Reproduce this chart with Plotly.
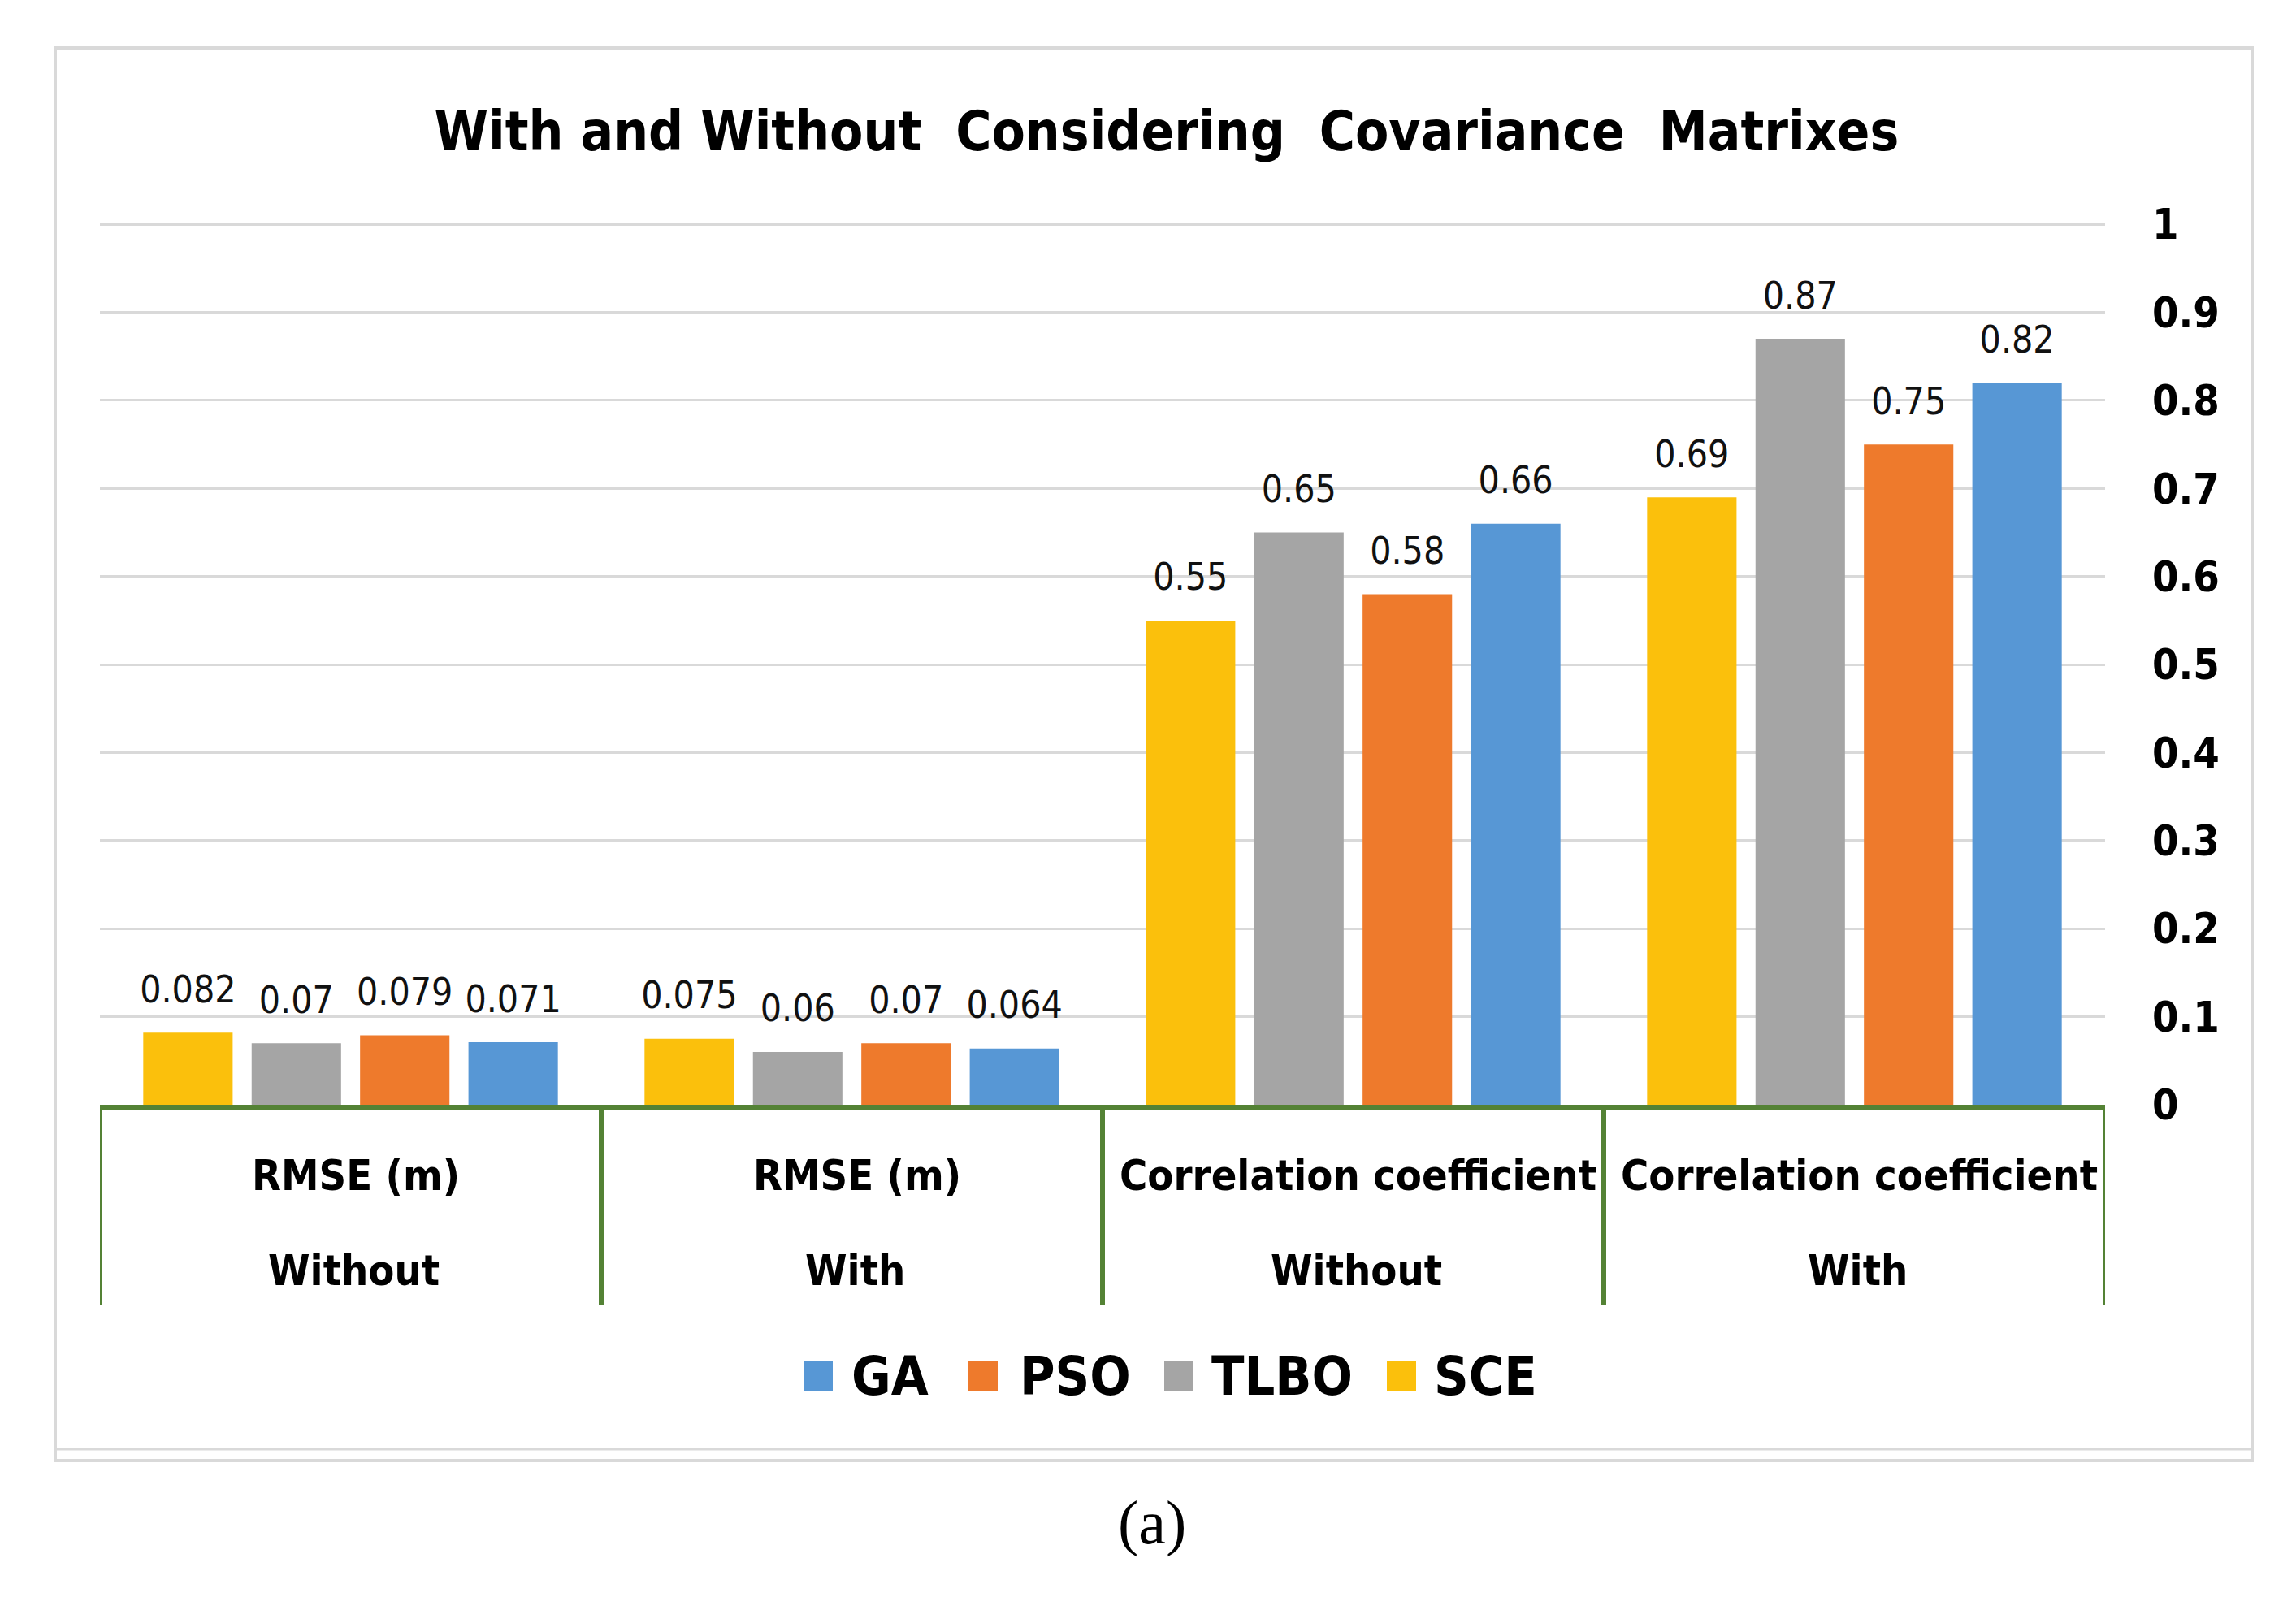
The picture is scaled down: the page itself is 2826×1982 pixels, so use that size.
import plotly.graph_objects as go

# ---------------- data ----------------
metric_labels = ["RMSE (m)", "RMSE (m)", "Correlation coefficient", "Correlation coefficient"]
case_labels = ["Without", "With", "Without", "With"]
series_names = ["SCE", "TLBO", "PSO", "GA"]
sce_values = [0.082, 0.075, 0.55, 0.69]
tlbo_values = [0.07, 0.06, 0.65, 0.87]
pso_values = [0.079, 0.07, 0.58, 0.75]
ga_values = [0.071, 0.064, 0.66, 0.82]
legend_order = ["GA", "PSO", "TLBO", "SCE"]
y_tick_values = [0, 0.1, 0.2, 0.3, 0.4, 0.5, 0.6, 0.7, 0.8, 0.9, 1]
y_tick_labels = ["0", "0.1", "0.2", "0.3", "0.4", "0.5", "0.6", "0.7", "0.8", "0.9", "1"]
title_text = "With and Without  Considering  Covariance  Matrixes"
caption_text = "(a)"

# ---------------- styles / layout ----------------
colors = {"SCE": "#FBC00C", "TLBO": "#A5A5A5", "PSO": "#EE7A2C", "GA": "#5797D5"}
FONT = "DejaVu Sans Condensed, DejaVu Sans, sans-serif"
GREEN = "#548235"
OFF = 8                      # page body margin
W, H = 2826 - 2 * OFF, 1982 - 2 * OFF
L, T = 123 - OFF, 274 - OFF  # plot area in figure pixels
PW, PH = 2591 - 123, 1360 - 274
R, B = W - L - PW, H - T - PH


def px_x(px):                # reference screen px -> paper x
    return (px - OFF - L) / PW


def px_y(py):                # reference screen px -> paper y
    return (T + PH - (py - OFF)) / PH


series_values = {"SCE": sce_values, "TLBO": tlbo_values, "PSO": pso_values, "GA": ga_values}
x_keys = [f"{m} | {c}" for m, c in zip(metric_labels, case_labels)]

fig = go.Figure()
for name in series_names:
    fig.add_trace(go.Bar(
        x=x_keys, y=series_values[name], name=name,
        marker=dict(color=colors[name], line=dict(width=0)),
        offsetgroup=name, alignmentgroup="a", showlegend=False,
    ))
for name in series_names:
    fig.add_trace(go.Scatter(
        x=x_keys, y=series_values[name], mode="markers+text",
        text=[f"{v:g}" for v in series_values[name]], textposition="top center",
        textfont=dict(family=FONT, size=46, color="#111111"),
        marker=dict(size=40, opacity=0, color=colors[name]),
        offsetgroup=name, alignmentgroup="a", showlegend=False,
        cliponaxis=False, hoverinfo="skip",
    ))

shapes = []
annotations = []
# outer frame
shapes.append(dict(type="rect", xref="paper", yref="paper",
                   x0=px_x(68), x1=px_x(2772), y0=px_y(1798), y1=px_y(59),
                   line=dict(color="#D9D9D9", width=4), layer="below"))
shapes.append(dict(type="line", xref="paper", yref="paper",
                   x0=px_x(68), x1=px_x(2772), y0=px_y(1784), y1=px_y(1784),
                   line=dict(color="#D9D9D9", width=3)))
# category dividers
for i in range(len(x_keys) + 1):
    shapes.append(dict(type="line", xref="x", yref="paper",
                       x0=i - 0.5, x1=i - 0.5, y0=0, y1=px_y(1607),
                       line=dict(color=GREEN, width=6)))
# category labels
for i, (m, c) in enumerate(zip(metric_labels, case_labels)):
    annotations.append(dict(x=i, y=px_y(1447), xref="x", yref="paper", text=m,
                            showarrow=False, yanchor="middle", xshift=6,
                            font=dict(family=FONT, size=52, color="black", weight="bold")))
    annotations.append(dict(x=i, y=px_y(1564), xref="x", yref="paper", text=c,
                            showarrow=False, yanchor="middle", xshift=4,
                            font=dict(family=FONT, size=52, color="black", weight="bold")))
# legend (manual, larger swatches)
legend_marker_px = [1007, 1210, 1451, 1725]
legend_text_px = [1046, 1253, 1489, 1763]
ly = 1694
for name, mx, tx in zip(legend_order, legend_marker_px, legend_text_px):
    shapes.append(dict(type="rect", xref="paper", yref="paper",
                       x0=px_x(mx - 18), x1=px_x(mx + 18), y0=px_y(ly + 18), y1=px_y(ly - 18),
                       fillcolor=colors[name], line=dict(width=0)))
    annotations.append(dict(x=px_x(tx), y=px_y(ly), xref="paper", yref="paper", text=name,
                            showarrow=False, xanchor="left", yanchor="middle",
                            font=dict(family=FONT, size=66, color="black", weight="bold")))
# caption
annotations.append(dict(x=px_x(1418), y=px_y(1874), xref="paper", yref="paper", text=caption_text,
                        showarrow=False, xanchor="center", yanchor="middle",
                        font=dict(family="Liberation Serif, serif", size=76, color="black")))

fig.update_layout(
    width=W, height=H,
    margin=dict(l=L, r=R, t=T, b=B, pad=0),
    paper_bgcolor="white", plot_bgcolor="white",
    barmode="group", bargap=0.135, bargroupgap=0.175,
    scattermode="group", scattergap=0.135,
    title=dict(text=title_text, x=(1436 - OFF) / W, xanchor="center",
               y=1 - (162 - OFF) / H, yanchor="middle",
               font=dict(family=FONT, size=67, color="black", weight="bold")),
    xaxis=dict(type="category", categoryorder="array", categoryarray=x_keys,
               range=[-0.5, len(x_keys) - 0.5], showticklabels=False, showgrid=False,
               showline=True, linecolor=GREEN, linewidth=6, zeroline=False, ticks=""),
    yaxis=dict(side="right", range=[0, 1.002], tickvals=y_tick_values, ticktext=y_tick_labels,
               showgrid=True, gridcolor="#D9D9D9", gridwidth=3, zeroline=False,
               showline=False, ticks="", ticklabelstandoff=57,
               tickfont=dict(family=FONT, size=52, color="black", weight="bold")),
    shapes=shapes, annotations=annotations,
    showlegend=False,
)

fig.write_html("out.html")
